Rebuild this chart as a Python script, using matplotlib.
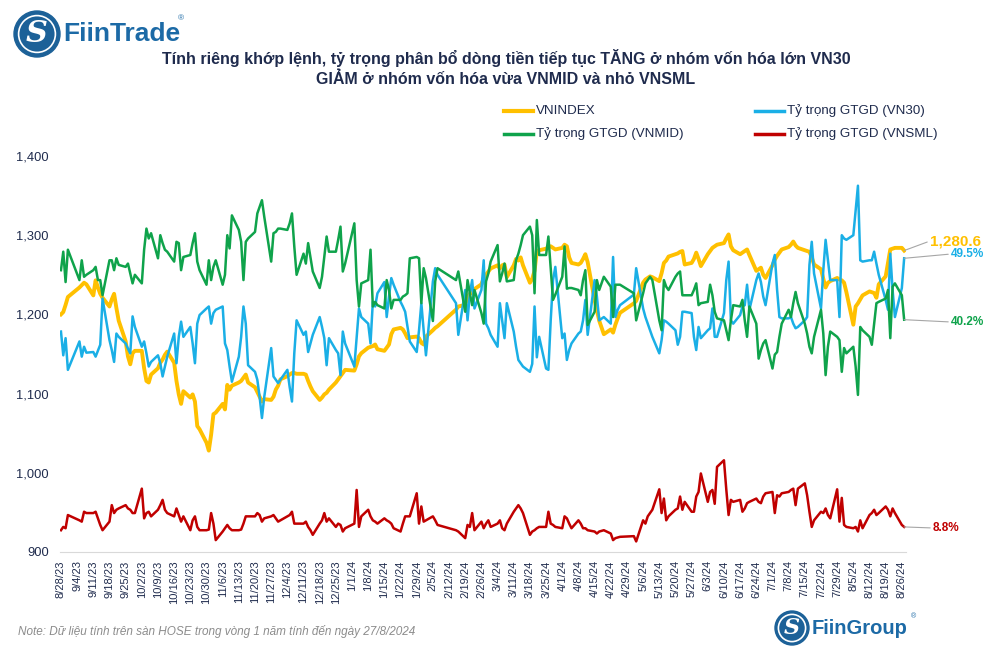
import matplotlib
matplotlib.use("Agg")
import matplotlib.pyplot as plt
from matplotlib.patches import Ellipse
from matplotlib.lines import Line2D
import pandas as pd

plt.rcParams['font.family'] = ['Liberation Sans', 'DejaVu Sans']

# trading days (HOSE), 28/8/2023 - 27/8/2024
holidays = ['2023-09-01', '2023-09-04', '2024-01-01', '2024-02-08', '2024-02-09',
            '2024-02-12', '2024-02-13', '2024-02-14', '2024-04-18', '2024-04-29',
            '2024-04-30', '2024-05-01']
days = pd.bdate_range('2023-08-28', '2024-08-27')
days = days[~days.isin(pd.to_datetime(holidays))]

vnindex = [
    1200, 1203, 1212, 1222,
    1234, 1237, 1240, 1238,
    1224, 1243, 1234, 1226, 1221,
    1210, 1219, 1226, 1208, 1192,
    1166, 1147, 1137, 1151, 1154,
    1154, 1132, 1116, 1114, 1124,
    1132, 1139, 1143, 1149, 1153,
    1139, 1116, 1099, 1087, 1103,
    1095, 1099, 1090, 1059, 1055,
    1038, 1028, 1048, 1074, 1076,
    1087, 1080, 1111, 1105, 1110,
    1114, 1116, 1120, 1124, 1114,
    1108, 1102, 1096, 1090, 1093,
    1092, 1096, 1105, 1110, 1118,
    1122, 1124, 1126, 1126, 1125,
    1125, 1124, 1116, 1109, 1103,
    1092, 1095, 1099, 1101, 1105,
    1114, 1118, 1122, 1126, 1130,
    1129, 1137, 1147, 1151,
    1158, 1159, 1160, 1162, 1156,
    1154, 1158, 1162, 1175, 1181,
    1183, 1181, 1176, 1170, 1171,
    1172, 1170, 1164, 1162, 1172,
    1180, 1183, 1185,
    1206, 1210,
    1212, 1222, 1226, 1228, 1232,
    1238, 1246, 1250, 1254, 1258,
    1262, 1258, 1262, 1263, 1247,
    1262, 1270, 1268, 1272, 1262,
    1240, 1245, 1255, 1280, 1281,
    1283, 1285, 1286, 1284, 1282,
    1284, 1288, 1286, 1272, 1265,
    1263, 1265, 1270, 1276, 1266,
    1218, 1205, 1192, 1175,
    1181, 1177, 1187, 1195, 1202,
    1214, 1217,
    1240, 1244, 1246, 1248, 1247,
    1242, 1252, 1265, 1268, 1273,
    1276, 1277, 1279, 1280, 1263,
    1265, 1270, 1278, 1270, 1261,
    1276, 1280, 1284, 1286, 1288,
    1290, 1296, 1301, 1286, 1281,
    1276, 1278, 1280, 1282, 1275,
    1255, 1257, 1259, 1250, 1246,
    1262, 1269, 1274, 1278, 1282,
    1285, 1288, 1292, 1287, 1284,
    1281, 1280, 1279, 1272, 1263,
    1257, 1245, 1234, 1240, 1242,
    1246, 1244, 1243, 1240, 1228,
    1187, 1210, 1214, 1219, 1224,
    1229, 1228, 1227, 1221, 1238,
    1248, 1265, 1282, 1283, 1284,
    1284, 1280.6]

vn30 = [
    38.4, 34.8, 37.4, 32.6,
    36.9, 34.6, 36.1, 35.2,
    35.3, 34.6, 35.5, 36.4, 43.4,
    37.1, 35.6, 33.8, 38.1, 37.6,
    36.6, 35.8, 35.1, 40.7, 39.1,
    36.1, 36.9, 35.1, 33.1, 33.8,
    34.8, 33.6, 31.6, 33.1, 34.6,
    38.1, 33.6, 37.6, 39.9, 37.6,
    39.1, 36.6, 33.6, 39.6, 40.9,
    41.9, 42.2, 39.6, 41.2, 41.7,
    42.2, 36.6, 35.6, 33.1, 30.8,
    34.6, 37.6, 42.2, 39.6, 33.3,
    32.3, 31.1, 28.5, 25.3, 28.5,
    35.9, 31.6, 31.1, 30.6, 31.1,
    32.6, 30.0, 27.8, 35.1, 40.1,
    37.9, 38.4, 35.3, 36.6, 37.9,
    40.6, 39.1, 37.4, 33.3, 37.4,
    35.6, 35.1, 31.8, 38.4, 36.6,
    33.1, 37.6, 41.9, 40.6,
    39.6, 36.6, 42.9, 42.2, 44.2,
    45.9, 40.6, 43.7, 46.5, 45.5,
    42.9, 42.2, 41.4, 39.1, 36.9,
    35.3, 38.6, 42.7, 38.6, 34.8,
    46.0, 48.0, 47.0,
    42.7, 37.9,
    44.7, 40.1, 44.2, 46.2, 41.9,
    44.7, 49.2, 39.6, 38.9, 37.9,
    36.1, 42.7, 40.1, 37.4, 42.7,
    38.4, 36.1, 34.1, 33.6, 33.1,
    32.3, 33.5, 42.2, 34.5, 37.6,
    32.8, 32.6, 40.1, 46.2, 48.2,
    37.4, 38.1, 34.1, 35.6, 36.6,
    38.1, 38.4, 40.1, 43.2, 37.9,
    46.2, 43.7, 40.1, 40.6,
    39.6, 49.7, 40.6, 41.7, 42.4,
    44.0, 48.0,
    41.9, 40.6, 39.6, 38.6, 37.6,
    35.1, 37.1, 40.1, 39.9, 39.6,
    38.6, 36.4, 37.6, 41.4, 41.4,
    41.2, 37.6, 35.6, 39.1, 37.4,
    38.6, 38.9, 41.9, 37.6, 37.6,
    41.2, 46.2, 49.0, 40.1, 39.6,
    40.9, 42.2, 42.4, 45.5, 41.7,
    46.2, 47.2, 45.9, 43.7, 42.4,
    48.7, 50.0, 44.7, 40.6, 40.4,
    40.4, 40.6, 39.6, 38.9, 39.1,
    40.1, 40.6, 48.5, 52.0, 47.2,
    41.9, 47.7, 52.3, 49.2, 46.2,
    46.2, 40.6, 53.0, 52.5, 52.3,
    53.0, 56.8, 60.5, 49.2, 49.0,
    49.2, 49.2, 50.5, 48.7, 47.0,
    43.2, 41.7, 50.2, 44.7, 40.6,
    45.0, 49.5]

vnmid = [
    47.7, 50.5, 45.9, 50.8,
    46.2, 49.2, 46.7, 47.0,
    47.7, 48.2, 46.2, 46.2, 43.9,
    49.2, 49.2, 47.7, 49.5, 48.5,
    48.2, 48.7, 47.2, 45.7, 47.0,
    45.7, 50.8, 54.0, 52.5, 53.3,
    49.5, 53.0, 51.8, 50.8, 50.5,
    49.0, 52.0, 51.8, 47.7, 49.7,
    50.0, 51.8, 53.3, 49.0, 47.7,
    45.5, 49.2, 46.2, 48.2, 49.2,
    45.5, 47.0, 53.0, 51.0, 56.0,
    53.8, 52.0, 46.2, 52.0, 52.5,
    53.5, 56.3, 57.3, 58.3, 55.8,
    49.0, 53.3, 53.5, 54.0, 54.0,
    53.8, 54.8, 56.3, 51.3, 47.0,
    50.2, 48.7, 51.8, 49.7, 47.5,
    45.0, 46.7, 49.7, 52.8, 50.5,
    50.5, 52.3, 54.3, 47.5, 48.7,
    54.8, 46.2, 42.2, 45.7,
    46.2, 50.8, 42.2, 42.9, 42.4,
    41.9, 46.2, 44.7, 41.9, 43.2,
    43.2, 43.7, 43.9, 44.2, 49.5,
    49.7, 49.5, 42.7, 48.0, 46.5,
    40.0, 46.0, 48.0,
    46.2, 47.5,
    41.4, 46.2, 44.2, 42.4, 44.7,
    41.2, 39.6, 46.0, 47.2, 49.0,
    51.5, 46.0, 47.2, 48.7, 46.0,
    46.2, 49.2, 50.2, 51.5, 53.0,
    54.3, 53.0, 44.2, 55.3, 50.0,
    50.0, 52.8, 48.0, 43.2, 44.0,
    46.7, 51.3, 44.9, 45.0, 45.0,
    44.7, 43.9, 46.2, 47.7, 39.4,
    41.4, 46.2, 44.7, 46.7,
    45.2, 40.6, 45.5, 45.5, 45.5,
    44.2, 40.1,
    44.2, 45.7, 46.2, 46.7, 46.2,
    40.1, 38.6, 46.2, 45.2, 44.7,
    46.7, 47.2, 47.5, 43.9, 43.9,
    43.9, 44.7, 45.7, 42.4, 42.7,
    42.9, 45.5, 43.9, 41.4, 40.4,
    40.1, 38.6, 37.1, 40.1, 42.4,
    42.2, 43.2, 40.1, 37.6, 42.2,
    39.6, 34.3, 35.6, 36.6, 37.1,
    32.8, 34.9, 35.3, 37.6, 39.6,
    41.7, 40.6, 42.7, 44.4, 42.7,
    39.6, 38.1, 36.1, 35.1, 37.6,
    41.7, 38.1, 31.8, 36.1, 38.4,
    37.6, 37.1, 32.3, 35.9, 35.1,
    36.1, 33.1, 28.8, 39.1, 38.6,
    37.6, 36.4, 39.6, 42.7, 42.9,
    43.4, 44.7, 37.4, 45.2, 45.7,
    43.9, 40.2]

vnsml = [
    8.3, 8.8, 8.6, 10.6,
    9.8, 9.6, 11.1, 10.9,
    10.9, 11.1, 10.1, 9.1, 8.3,
    9.6, 12.1, 10.9, 11.4, 11.6,
    12.1, 11.6, 11.4, 10.9, 10.9,
    14.6, 10.1, 10.9, 11.1, 10.4,
    11.4, 12.1, 12.9, 11.4, 10.9,
    10.4, 11.6, 10.6, 9.6, 10.4,
    8.3, 9.8, 10.4, 8.8, 8.3,
    8.3, 8.4, 10.9, 9.3, 6.8,
    8.1, 8.6, 9.1, 8.6, 8.3,
    8.3, 8.4, 9.3, 10.4, 10.4,
    10.4, 10.9, 10.6, 9.6, 10.1,
    10.4, 10.6, 10.1, 9.6, 9.8,
    10.4, 10.6, 11.1, 9.3, 9.3,
    9.3, 9.6, 8.8, 8.3, 7.6,
    9.3, 9.8, 10.9, 9.6, 10.1,
    8.8, 9.3, 9.1, 8.1, 8.6,
    9.3, 14.4, 8.8, 10.4,
    11.4, 10.4, 9.8, 9.6, 9.3,
    10.1, 9.8, 9.6, 9.3, 8.6,
    8.1, 9.3, 10.4, 10.4, 10.4,
    13.9, 9.3, 11.9, 9.6, 9.8,
    10.4, 9.8, 9.1,
    8.3, 8.1,
    7.1, 9.1, 8.8, 10.9, 8.3,
    9.6, 8.6, 9.3, 9.8, 8.8,
    9.3, 9.8, 8.6, 8.3, 9.3,
    11.1, 11.6, 12.1, 11.6, 10.9,
    7.6, 8.1, 8.3, 8.6, 8.8,
    8.8, 11.1, 9.3, 9.1, 8.8,
    8.6, 10.4, 10.1, 9.3, 8.6,
    9.8, 9.3, 8.6, 8.6, 8.3,
    8.1, 7.8, 8.1, 8.3,
    7.8, 6.8, 7.1, 7.2, 7.3,
    7.4, 6.6,
    9.8, 9.3, 10.4, 10.9, 11.4,
    14.5, 10.9, 13.1, 9.8, 10.4,
    11.4, 11.6, 13.4, 11.4, 12.6,
    11.1, 11.1, 13.4, 14.1, 16.9,
    12.6, 14.1, 14.4, 12.3, 17.9,
    18.9, 14.5, 10.6, 12.9, 12.6,
    12.9, 11.1, 11.6, 12.4, 12.6,
    13.1, 12.6, 12.4, 13.4, 13.9,
    14.1, 10.9, 13.6, 13.4, 13.9,
    14.1, 14.4, 14.6, 12.1, 14.6,
    15.4, 13.6, 11.1, 8.8, 9.8,
    11.1, 10.9, 11.6, 10.6, 10.1,
    14.5, 9.6, 13.2, 9.1, 8.8,
    8.6, 8.8, 8.1, 9.8, 8.6,
    10.6, 10.9, 11.4, 10.6, 10.9,
    11.9, 11.4, 10.4, 11.6, 10.9,
    9.1, 8.8]

assert len(days) == len(vnindex) == len(vn30) == len(vnmid) == len(vnsml), \
    (len(days), len(vnindex), len(vn30), len(vnmid), len(vnsml))

labels = ['VNINDEX', 'Tỷ trọng GTGD (VN30)', 'Tỷ trọng GTGD (VNMID)', 'Tỷ trọng GTGD (VNSML)']
colors = ['#FFC000', '#1AAFE6', '#0FA34B', '#C00000']
yticks = [900, 1000, 1100, 1200, 1300, 1400]
tick_days = pd.date_range('2023-08-28', '2024-08-26', freq='7D')
tick_labels = [f"{t.month}/{t.day}/{t.strftime('%y')}" for t in tick_days]

title = ("Tính riêng khớp lệnh, tỷ trọng phân bổ dòng tiền tiếp tục TĂNG ở nhóm vốn hóa lớn VN30\n"
         "GIẢM ở nhóm vốn hóa vừa VNMID và nhỏ VNSML")
note = "Note: Dữ liệu tính trên sàn HOSE trong vòng 1 năm tính đến ngày 27/8/2024"
navy = '#1F2B4D'

W, H = 994, 650
fig = plt.figure(figsize=(W / 100, H / 100), dpi=100)
ax = fig.add_axes([60 / W, 1 - 552 / H, 846 / W, 396 / H])

ax.plot(days, vnindex, color=colors[0], lw=2.8, solid_joinstyle='round', zorder=2)
ax.set_ylim(900, 1400)
ax.set_yticks(yticks)
ax.set_yticklabels([f"{v:,}" for v in yticks])
ax.set_xlim(days[0] - pd.Timedelta(hours=10), days[0] + pd.Timedelta(days=365.8))
ax.set_xticks(tick_days)
ax.set_xticklabels(tick_labels, rotation=90)
ax.tick_params(axis='y', length=0, pad=8, labelsize=9.3, labelcolor=navy)
ax.tick_params(axis='x', length=0, pad=6, labelsize=8, labelcolor=navy)
for s in ['top', 'left', 'right']:
    ax.spines[s].set_visible(False)
ax.spines['bottom'].set_color('#D9D9D9')

ax2 = ax.twinx()
ax2.set_ylim(5, 65)
ax2.plot(days, vn30, color=colors[1], lw=1.8, solid_joinstyle='round')
ax2.plot(days, vnmid, color=colors[2], lw=1.8, solid_joinstyle='round')
ax2.plot(days, vnsml, color=colors[3], lw=1.8, solid_joinstyle='round')
ax2.axis('off')

# end labels
ann = dict(textcoords='figure pixels', va='center', ha='left', fontweight='bold',
           annotation_clip=False)
arrow = dict(arrowstyle='-', color='#A6A6A6', lw=0.8, shrinkA=0, shrinkB=0, relpos=(0, 0.5))
ax.annotate(f"{vnindex[-1]:,.1f}", xy=(days[-1], vnindex[-1]), xytext=(930, H - 241),
            color=colors[0], fontsize=11, arrowprops=arrow, **ann)
ax2.annotate(f"{vn30[-1]:.1f}%", xy=(days[-1], vn30[-1]), xytext=(951, H - 254),
             color=colors[1], fontsize=8.5, arrowprops=arrow, **ann)
ax2.annotate(f"{vnmid[-1]:.1f}%", xy=(days[-1], vnmid[-1]), xytext=(951, H - 322),
             color=colors[2], fontsize=8.5, arrowprops=arrow, **ann)
ax2.annotate(f"{vnsml[-1]:.1f}%", xy=(days[-1], vnsml[-1]), xytext=(933, H - 528),
             color=colors[3], fontsize=8.5, arrowprops=arrow, **ann)

# legend
leg_pos = [(504, 111), (755, 111), (504, 134), (755, 134)]
for (lx, ly), lab, c in zip(leg_pos, labels, colors):
    fig.add_artist(Line2D([lx / W, (lx + 29) / W], [1 - ly / H, 1 - ly / H],
                          color=c, lw=3 if c == colors[0] else 2.5))
    fig.text((lx + 32) / W, 1 - ly / H, lab, fontsize=9.6, color=navy, va='center')

fig.text(506 / W, 1 - 68 / H, title, ha='center', va='center', fontsize=11.5,
         fontweight='bold', color=navy, linespacing=1.3)
fig.text(18 / W, 1 - 632 / H, note, fontsize=8.5, style='italic', color='#8C8C8C', va='center')


def logo(cx, cy, r, name, size):
    fig.add_artist(Ellipse((cx / W, 1 - cy / H), 2 * r / W, 2 * r / H, color='#1C6198'))
    fig.add_artist(Ellipse((cx / W, 1 - cy / H), 1.6 * r / W, 1.6 * r / H, fill=False,
                           ec='white', lw=1.2))
    fig.text(cx / W, 1 - cy / H, 'S', family='DejaVu Serif', style='italic', fontweight='bold',
             color='white', fontsize=r * 0.95, ha='center', va='center')
    return fig.text((cx + r + 3) / W, 1 - cy / H, name, fontsize=size, fontweight='bold',
                    color='#1C6AA6', va='center')


logo(37, 34, 23, 'FiinTrade', 19)
fig.text(178 / W, 1 - 20 / H, '®', fontsize=6, color='#1C6AA6')
logo(792, 628, 17, 'FiinGroup', 14.5)
fig.text(911 / W, 1 - 617 / H, '®', fontsize=5, color='#1C6AA6', va='center')

fig.savefig('out.png', dpi=100)
